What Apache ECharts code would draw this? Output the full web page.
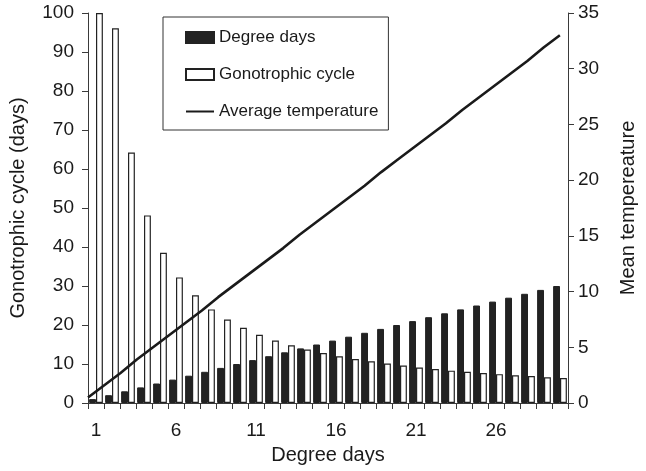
<!DOCTYPE html>
<html>
<head>
<meta charset="utf-8">
<script src="https://cdn.jsdelivr.net/npm/echarts@6/dist/echarts.min.js"></script>
<style>
html,body{margin:0;padding:0;background:#fff;}
#chart{width:646px;height:471px;}
</style>
</head>
<body>
<div id="chart"></div>
<script>
// Data
const categories = ['1','2','3','4','5','6','7','8','9','10','11','12','13','14','15','16','17','18','19','20','21','22','23','24','25','26','27','28','29','30'];
const degreeDays = [1,2,3,4,5,6,7,8,9,10,11,12,13,14,15,16,17,18,19,20,21,22,23,24,25,26,27,28,29,30];
const gonotrophicCycle = [100,96.1,64.2,48.1,38.5,32.2,27.6,24.0,21.4,19.3,17.5,16.0,14.8,13.7,12.8,12.0,11.3,10.7,10.1,9.6,9.1,8.7,8.3,8.0,7.7,7.4,7.1,6.9,6.6,6.4];
const avgTemperature = [0.5,1.6,2.7,3.9,5.0,6.1,7.2,8.3,9.5,10.6,11.7,12.8,13.9,15.1,16.2,17.3,18.4,19.5,20.7,21.8,22.9,24.0,25.1,26.3,27.4,28.5,29.6,30.7,31.9,33.0];
const leftTicks = {min:0, max:100, interval:10};
const rightTicks = {min:0, max:35, interval:5};

const FONT = "'Liberation Sans', Arial, Helvetica, sans-serif";
const TXT = '#1a1a1a';
const AX = '#3a3a3a';

const chart = echarts.init(document.getElementById('chart'), null, {renderer:'canvas'});
chart.setOption({
  animation:false,
  backgroundColor:'#fff',
  textStyle:{fontFamily:FONT, color:TXT},
  grid:{left:86, right:48, top:13, bottom:68, containLabel:false},
  legend:{
    orient:'vertical', left:163, top:17,
    padding:[12,10,10,22],
    itemGap:20, itemWidth:28, itemHeight:11,
    backgroundColor:'#fff', borderColor:'#333', borderWidth:1,
    textStyle:{fontFamily:FONT, fontSize:17, color:TXT},
    data:[
      {name:'Degree days', icon:'rect'},
      {name:'Gonotrophic cycle', icon:'rect'},
      {name:'Average temperature', itemStyle:{opacity:0}}
    ]
  },
  xAxis:[{
    type:'category', data:categories, boundaryGap:true,
    name:'Degree days', nameLocation:'middle', nameGap:42,
    nameTextStyle:{fontFamily:FONT, fontSize:20, color:TXT},
    axisLine:{show:true, lineStyle:{color:AX, width:1}},
    axisTick:{show:true, interval:0, length:6, lineStyle:{color:AX}},
    axisLabel:{interval:4, margin:18, fontSize:19, color:TXT, fontFamily:FONT},
    splitLine:{show:false}
  },{
    type:'value', min:0, max:29.5, show:false, gridIndex:0
  }],
  yAxis:[{
    type:'value', position:'left', min:leftTicks.min, max:leftTicks.max, interval:leftTicks.interval,
    name:'Gonotrophic cycle (days)', nameLocation:'middle', nameGap:60,
    nameTextStyle:{fontFamily:FONT, fontSize:20, color:TXT},
    axisLine:{show:true, lineStyle:{color:AX, width:1}},
    axisTick:{show:true, length:6, lineStyle:{color:AX}},
    axisLabel:{margin:14, fontSize:19, color:TXT, fontFamily:FONT},
    splitLine:{show:false}
  },{
    type:'value', position:'right', min:rightTicks.min, max:rightTicks.max, interval:rightTicks.interval,
    name:'Mean tempereature', nameLocation:'middle', nameGap:50, nameRotate:90,
    nameTextStyle:{fontFamily:FONT, fontSize:20, color:TXT},
    axisLine:{show:true, lineStyle:{color:AX, width:1}},
    axisTick:{show:true, length:6, lineStyle:{color:AX}},
    axisLabel:{margin:10, fontSize:19, color:TXT, fontFamily:FONT},
    splitLine:{show:false}
  }],
  series:[{
    name:'Degree days', type:'bar', xAxisIndex:0, yAxisIndex:0,
    data:degreeDays, barGap:'0%', barCategoryGap:'14%',
    itemStyle:{color:'#222', borderColor:'#222', borderWidth:1}
  },{
    name:'Gonotrophic cycle', type:'bar', xAxisIndex:0, yAxisIndex:0,
    data:gonotrophicCycle, barGap:'0%', barCategoryGap:'14%',
    itemStyle:{color:'#fff', borderColor:'#222', borderWidth:1.2}
  },{
    name:'Average temperature', type:'line', xAxisIndex:1, yAxisIndex:1,
    data:avgTemperature.map((t,i)=>[i,t]),
    symbol:'none', showSymbol:false,
    lineStyle:{color:'#1a1a1a', width:2.6},
    itemStyle:{color:'#1a1a1a'}
  }]
});
</script>
</body>
</html>
